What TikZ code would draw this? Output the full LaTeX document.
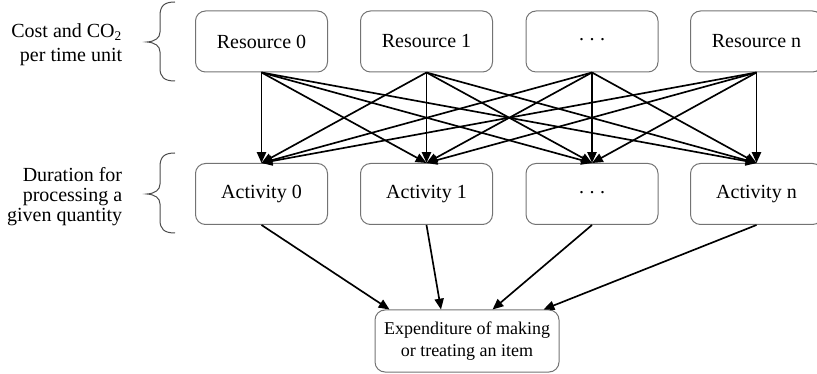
\documentclass[tikz,border=0pt]{standalone}
\usepackage{fontspec}
\setmainfont{Liberation Serif}
\usetikzlibrary{arrows.meta,calc}

% three raised, spaced dots
\newcommand\middots{\raisebox{2.2pt}{.\hspace{3.3pt}.\hspace{3.3pt}.}}

\tikzset{
  x=0.6pt, y=-0.6pt,
  box/.style={draw=black!55, line width=0.6pt, rounded corners=6pt,
              minimum width=79.2pt, minimum height=36.6pt, inner sep=0pt,
              font=\fontsize{12}{14}\selectfont},
  flow/.style={-{Triangle[length=6.5pt,width=5.5pt]}, line width=1pt, black},
  side/.style={anchor=east, align=right, inner sep=0pt},
  brace/.style={draw=black!70, line width=0.6pt}
}

\begin{document}
\begin{tikzpicture}
\useasboundingbox (0,0) rectangle (817,374);

% resources
\node[box] (r0) at (261.5,41.5) {Resource 0};
\node[box] (r1) at (426.5,41.5) {Resource 1};
\node[box] (r2) at (592,41.5) {\middots};
\node[box] (r3) at (756.5,41.5) {Resource n};

% activities
\node[box] (a0) at (261.5,194) {Activity 0};
\node[box] (a1) at (426.5,194) {Activity 1};
\node[box] (a2) at (592,194) {\middots};
\node[box] (a3) at (756.5,194) {Activity n};

% result
\node[box, minimum width=110.4pt, minimum height=37.2pt, align=center,
      font=\fontsize{10.8}{13.2}\selectfont] (e) at (467,341)
  {Expenditure of making\\or treating an item};

% every resource feeds every activity
\foreach \i in {0,...,3}
  \foreach \j in {0,...,3}
    \draw[flow] (r\i.south) -- (a\j.north);

% activities feed the result at spread points on its top edge
\coordinate (e0) at ($(e.north)+(-77.5,0)$);
\coordinate (e1) at ($(e.north)+(-26,0)$);
\coordinate (e2) at ($(e.north)+(25.5,0)$);
\coordinate (e3) at ($(e.north)+(76.5,0)$);
\foreach \j in {0,...,3}
  \draw[flow] (a\j.south) -- (e\j);

% side labels
\node[side, font=\fontsize{12}{14.4}\selectfont] (l1) at (122.5,45)
  {Cost and CO\textsubscript{2}\\per time unit};
\node[side, font=\fontsize{12}{12}\selectfont] (l2) at (122.5,197)
  {Duration for\\processing a\\given quantity};

% braces
\draw[brace] (175,2) .. controls (164,2) and (160,6) .. (160,16)
  -- (160,32) .. controls (160,38) and (155,41.5) .. (147,42)
  .. controls (155,42.5) and (160,46) .. (160,52)
  -- (160,68) .. controls (160,77) and (164,81) .. (175,81);
\draw[brace] (175,153) .. controls (164,153) and (160,157) .. (160,167)
  -- (160,184) .. controls (160,190) and (155,193.5) .. (147,194)
  .. controls (155,194.5) and (160,198) .. (160,204)
  -- (160,220) .. controls (160,229) and (164,233) .. (175,233);
\end{tikzpicture}
\end{document}
